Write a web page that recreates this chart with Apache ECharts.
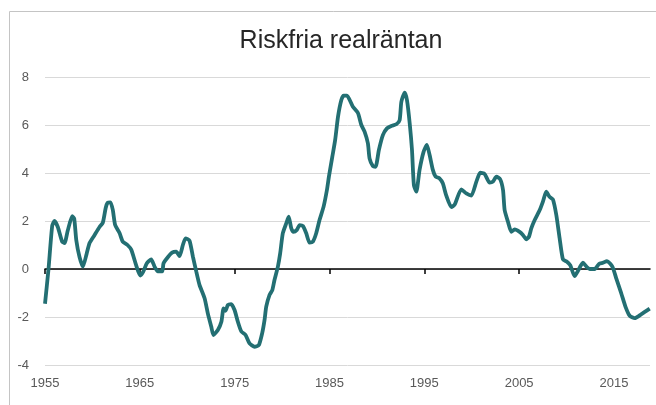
<!DOCTYPE html>
<html>
<head>
<meta charset="utf-8">
<script src="https://cdn.jsdelivr.net/npm/echarts@6/dist/echarts.min.js"></script>
<style>
  html, body { margin: 0; padding: 0; background: #fff; }
  #main { width: 656px; height: 405px; }
</style>
</head>
<body>
<div id="main"></div>
<script>
// Riskfria realräntan (år, procent)
const years = [
  1955.0, 1955.37, 1955.76, 1956.0, 1956.35, 1956.8, 1957.06, 1957.4, 1957.87, 1958.08,
  1958.3, 1958.64, 1959.0, 1959.4, 1959.7, 1960.2, 1960.75, 1961.1, 1961.4, 1961.6,
  1961.9, 1962.15, 1962.4, 1962.86, 1963.2, 1963.7, 1964.1, 1964.6, 1965.04, 1965.35,
  1965.74, 1966.2, 1966.55, 1966.9, 1967.36, 1967.5, 1967.95, 1968.4, 1968.84, 1969.19,
  1969.54, 1969.82, 1970.24, 1970.6, 1970.95, 1971.3, 1971.83, 1972.17, 1972.53, 1972.77,
  1973.23, 1973.6, 1973.83, 1974.04, 1974.28, 1974.64, 1974.99, 1975.34, 1975.7, 1976.15,
  1976.57, 1977.1, 1977.55, 1977.9, 1978.15, 1978.33, 1978.68, 1978.97, 1979.2, 1979.56,
  1979.8, 1980.08, 1980.44, 1980.7, 1980.97, 1981.2, 1981.56, 1981.85, 1982.2, 1982.55,
  1982.9, 1983.25, 1983.6, 1983.95, 1984.38, 1984.73, 1984.94, 1985.3, 1985.6, 1985.9,
  1986.25, 1986.5, 1986.84, 1987.47, 1988.0, 1988.36, 1988.7, 1989.05, 1989.23, 1989.58,
  1989.86, 1990.21, 1990.63, 1991.06, 1991.52, 1992.05, 1992.4, 1992.58, 1992.93, 1993.17,
  1993.46, 1993.7, 1993.9, 1994.16, 1994.5, 1994.93, 1995.27, 1995.56, 1995.9, 1996.19,
  1996.6, 1996.95, 1997.3, 1997.85, 1998.2, 1998.9, 1999.43, 1999.96, 2000.49, 2000.9,
  2001.36, 2001.89, 2002.24, 2002.6, 2003.0, 2003.3, 2003.47, 2003.82, 2004.18, 2004.53,
  2005.05, 2005.4, 2005.76, 2006.04, 2006.29, 2006.64, 2007.17, 2007.5, 2007.86, 2008.2,
  2008.56, 2008.92, 2009.27, 2009.62, 2010.04, 2010.4, 2010.85, 2011.2, 2011.73, 2012.1,
  2012.44, 2012.97, 2013.42, 2013.84, 2014.26, 2014.83, 2015.25, 2015.78, 2016.24, 2016.66,
  2017.19, 2017.9, 2018.77
];
const rates = [
  -1.45, 0.0, 1.8, 2.0, 1.75, 1.15, 1.08, 1.6, 2.2, 2.1,
  1.2, 0.5, 0.1, 0.65, 1.08, 1.4, 1.75, 1.93, 2.54, 2.76,
  2.78, 2.46, 1.83, 1.5, 1.14, 1.0, 0.8, 0.17, -0.27, -0.12,
  0.24, 0.4, 0.1, -0.1, -0.1, 0.24, 0.49, 0.68, 0.72, 0.54,
  1.0, 1.28, 1.18, 0.51, -0.1, -0.67, -1.22, -1.85, -2.4, -2.75,
  -2.54, -2.2, -1.64, -1.74, -1.5, -1.46, -1.71, -2.2, -2.6, -2.75,
  -3.1, -3.24, -3.17, -2.68, -2.13, -1.57, -1.08, -0.88, -0.46, 0.1,
  0.65, 1.49, 1.9, 2.18, 1.7, 1.55, 1.63, 1.83, 1.79, 1.49,
  1.1, 1.14, 1.49, 2.04, 2.6, 3.29, 3.85, 4.68, 5.38, 6.35,
  7.04, 7.22, 7.22, 6.76, 6.5, 6.0, 5.72, 5.24, 4.6, 4.29,
  4.26, 4.96, 5.58, 5.86, 5.96, 6.03, 6.2, 6.97, 7.35, 7.04,
  6.07, 4.96, 3.5, 3.22, 4.13, 4.89, 5.17, 4.75, 4.13, 3.85,
  3.78, 3.57, 3.08, 2.58, 2.68, 3.32, 3.15, 3.06, 3.64, 4.01,
  3.96, 3.6, 3.64, 3.85, 3.74, 3.29, 2.46, 1.97, 1.55, 1.65,
  1.55, 1.42, 1.24, 1.35, 1.7, 2.04, 2.46, 2.8, 3.22, 3.01,
  2.9, 2.25, 1.28, 0.4, 0.3, 0.15, -0.3, -0.08, 0.26, 0.1,
  0.0, 0.0, 0.21, 0.26, 0.33, 0.1, -0.4, -1.03, -1.6, -1.95,
  -2.05, -1.88, -1.65
];
const xTicks = [1955, 1965, 1975, 1985, 1995, 2005, 2015];
const yMin = -4, yMax = 8, yStep = 2;

let font = "'Liberation Sans', Arial, sans-serif";
let lineData = years.map(function (y, i) { return [y, rates[i]]; });

let myChart = echarts.init(document.getElementById("main"));
let option = {
  animation: false,
  textStyle: { fontFamily: font },
  graphic: [
    {
      type: "rect",
      shape: { x: 9.5, y: 11.5, width: 700, height: 500 },
      style: { fill: "none", stroke: "#c4c4c4", lineWidth: 1 }
    },
    {
      type: "text",
      x: 341,
      y: 41,
      style: {
        text: "Riskfria realräntan",
        font: "25px " + font,
        fill: "#262626",
        textAlign: "center",
        textVerticalAlign: "middle"
      }
    }
  ],
  grid: { left: 45, right: 6, top: 77, bottom: 40 },
  xAxis: [
    {
      type: "value",
      position: "bottom",
      min: 1955,
      max: 2018.8,
      axisLine: { show: false, onZero: false },
      axisTick: { show: false },
      splitLine: { show: false },
      axisLabel: {
        customValues: xTicks,
        color: "#595959",
        fontSize: 13,
        margin: 12,
        formatter: function (v) { return String(v); }
      }
    },
    {
      type: "value",
      position: "top",
      min: 1955,
      max: 2018.8,
      axisLine: { show: true, onZero: true, lineStyle: { color: "#000", width: 1.5 } },
      axisTick: { show: true, inside: true, length: 5, customValues: xTicks, lineStyle: { color: "#000", width: 1.5 } },
      axisLabel: { show: false },
      splitLine: { show: false }
    }
  ],
  yAxis: {
    type: "value",
    min: yMin,
    max: yMax,
    interval: yStep,
    axisLine: { show: false },
    axisTick: { show: false },
    splitLine: { show: true, lineStyle: { color: "#d9d9d9", width: 1 } },
    axisLabel: { color: "#595959", fontSize: 13, margin: 16 }
  },
  series: [
    {
      type: "line",
      xAxisIndex: 0,
      data: lineData,
      showSymbol: false,
      smooth: 0.2,
      lineStyle: { color: "#236f73", width: 3.8 },
      z: 5
    }
  ]
};
myChart.setOption(option);
</script>
</body>
</html>
